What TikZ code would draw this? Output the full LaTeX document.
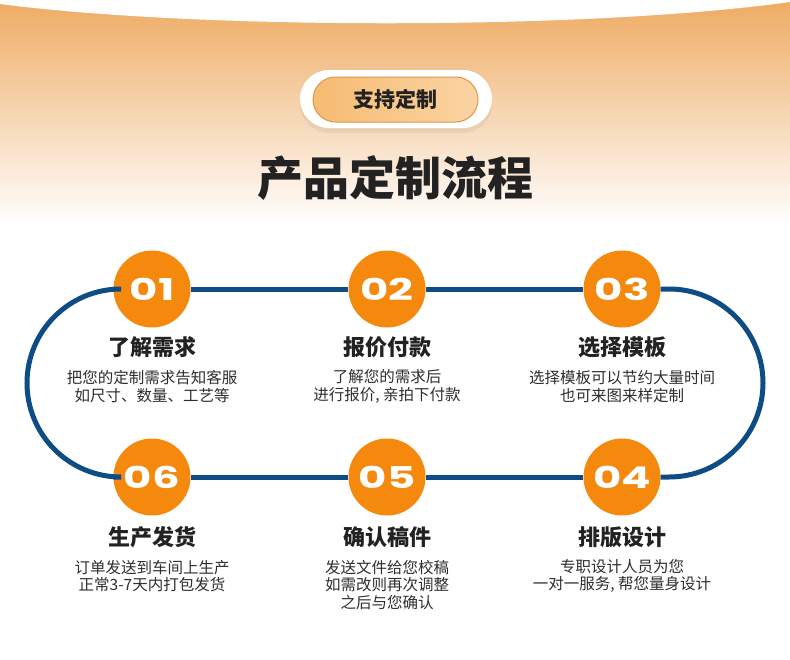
\documentclass[tikz,border=0pt]{standalone}
\usepackage{fontspec}
\usetikzlibrary{shadows}
\newfontfamily\cjk{Noto Sans CJK SC}
\newfontfamily\numfont[FakeStretch=1.45]{Poppins}

\definecolor{trackblue}{HTML}{0D4C84}
\definecolor{steporange}{HTML}{F5890D}
\definecolor{topband}{HTML}{EEAB63}
\definecolor{midband}{HTML}{F6D0A4}
\definecolor{pillleft}{HTML}{F7BB72}
\definecolor{pillright}{HTML}{FBD4A3}
\definecolor{pillrim}{HTML}{DB964A}
\definecolor{inkdark}{HTML}{222222}
\definecolor{inkgray}{HTML}{2E2E2E}

\tikzset{
  track/.style={draw=trackblue,line width=5pt},
  stepnum/.style={circle,fill=steporange,minimum size=77pt,inner sep=0pt,
    text=white,font=\numfont\bfseries\fontsize{30}{30}\selectfont},
  steptitle/.style={text=inkdark,font=\cjk\bfseries\fontsize{22}{26}\selectfont},
  stepdesc/.style={text=inkgray,align=center,inner sep=0pt,
    font=\cjk\fontsize{15.5}{17.5}\selectfont},
}

\begin{document}
\begin{tikzpicture}[x=1pt,y=-1pt]

    \useasboundingbox (0,0) rectangle (790,659);
    \fill[white] (0,0) rectangle (790,659);

    % Top band
    \shade[top color=topband,middle color=midband,bottom color=white] (0,0) rectangle (790,225);
    \fill[white] (0,0) -- (0,4) .. controls (200,30) and (590,30) .. (790,2) -- (790,0) -- cycle;

    % Badge
    \node[fill=white,rounded corners=29pt,minimum width=192pt,minimum height=58pt,
      drop shadow={opacity=0.12,shadow xshift=0pt,shadow yshift=-5pt}] (badgeout) at (396,99) {};
    \node[left color=pillleft,right color=pillright,draw=pillrim,line width=1pt,
      rounded corners=22.5pt,minimum width=165pt,minimum height=45pt,
      text=inkdark,font=\cjk\bfseries\fontsize{21}{24}\selectfont] (badge) at (395.5,99.5) {支持定制};

    % Heading
    \node[text=inkdark,font=\cjk\bfseries\fontsize{46}{50}\selectfont] (heading) at (395,178) {产品定制流程};

    % Steps
    \node[stepnum] (s1) at (152,289) {01};
    \node[stepnum] (s2) at (387,289) {02};
    \node[stepnum] (s3) at (622,289) {03};
    \node[stepnum] (s4) at (622,477) {04};
    \node[stepnum] (s5) at (387,477) {05};
    \node[stepnum] (s6) at (152,477) {06};

    % Track
    \coordinate (rtop) at (669,289);
    \coordinate (lbot) at (121,477);
    \draw[track] (s1) -- (s2);
    \draw[track] (s2) -- (s3);
    \draw[track] (s3) -- (rtop) arc[start angle=-90,end angle=90,radius=94] -- (s4);
    \draw[track] (s4) -- (s5);
    \draw[track] (s5) -- (s6);
    \draw[track] (s6) -- (lbot) arc[start angle=90,end angle=270,radius=94] -- (s1);

    % Titles
    \node[steptitle] (t1) at (152,347) {了解需求};
    \node[steptitle] (t2) at (387,347) {报价付款};
    \node[steptitle] (t3) at (622,347) {选择模板};
    \node[steptitle] (t4) at (622,537) {排版设计};
    \node[steptitle] (t5) at (387,537) {确认稿件};
    \node[steptitle] (t6) at (152,537) {生产发货};

    % Descriptions
    \node[stepdesc] (d1) at (152,386.5) {把您的定制需求告知客服\\如尺寸、数量、工艺等};
    \node[stepdesc] (d2) at (387,386.5) {了解您的需求后\\进行报价, 亲拍下付款};
    \node[stepdesc] (d3) at (622,386.5) {选择模板可以节约大量时间\\也可来图来样定制};
    \node[stepdesc] (d4) at (622,576) {专职设计人员为您\\一对一服务, 帮您量身设计};
    \node[stepdesc] (d5) at (387,585) {发送文件给您校稿\\如需改则再次调整\\之后与您确认};
    \node[stepdesc] (d6) at (152,576) {订单发送到车间上生产\\正常3-7天内打包发货};

\end{tikzpicture}
\end{document}
